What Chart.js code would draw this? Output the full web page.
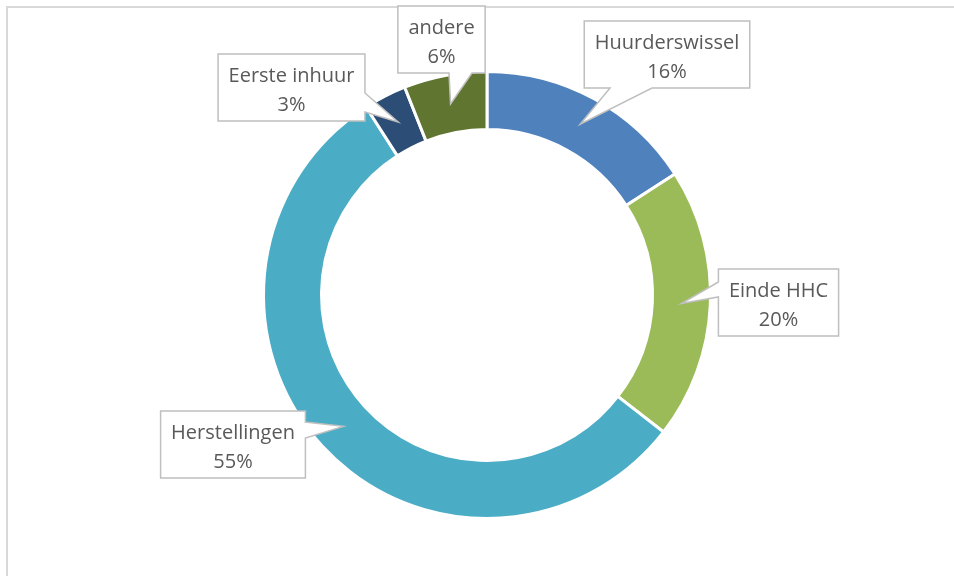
<!DOCTYPE html>
<html>
<head>
<meta charset="utf-8">
<script src="https://cdn.jsdelivr.net/npm/chart.js@4.4.0/dist/chart.umd.min.js"></script>
<style>
  html, body { margin: 0; padding: 0; background: #ffffff; }
</style>
</head>
<body>
<canvas id="myChart" width="954" height="576"></canvas>
<script>
// data (shares in %)
const categorieen = ["Huurderswissel", "Einde HHC", "Herstellingen", "Eerste inhuur", "andere"];
const aandelen = [15.9, 19.6, 55.4, 3.1, 6.0];
const kleuren = ["#4F81BD", "#9BBB59", "#4BACC6", "#2C4D75", "#5F7530"];

// callout boxes: offsets from the chart centre, pointer side + base along that side
const callouts = [
  { dx: 180,    top: -274, side: "bottom", b0: -57, b1: -15 },
  { dx: 291.5,  top: -26,  side: "left",   b0: 13,  b1: 28 },
  { dx: -254,   top: 116,  side: "right",  b0: 11,  b1: 27 },
  { dx: -195.5, top: -241, side: "right",  b0: 39,  b1: 58 },
  { dx: -45.5,  top: -289, side: "bottom", b0: 7.5, b1: 30.5 }
];

const labelFont = "20px 'Open Sans', sans-serif";
const boxH = 67;
const padX = 10.5;

function calloutPath(ctx, x, y, w, h, c, tip) {
  ctx.beginPath();
  ctx.moveTo(x, y);
  ctx.lineTo(x + w, y);
  if (c.side === "right") {
    ctx.lineTo(x + w, y + c.b0);
    ctx.lineTo(tip.x, tip.y);
    ctx.lineTo(x + w, y + c.b1);
  }
  ctx.lineTo(x + w, y + h);
  if (c.side === "bottom") {
    // b0/b1 are measured from the box centre
    ctx.lineTo(x + w / 2 + c.b1, y + h);
    ctx.lineTo(tip.x, tip.y);
    ctx.lineTo(x + w / 2 + c.b0, y + h);
  }
  ctx.lineTo(x, y + h);
  if (c.side === "left") {
    ctx.lineTo(x, y + c.b1);
    ctx.lineTo(tip.x, tip.y);
    ctx.lineTo(x, y + c.b0);
  }
  ctx.closePath();
}

const calloutPlugin = {
  id: "callouts",
  beforeDraw(chart) {
    const ctx = chart.ctx;
    ctx.save();
    ctx.fillStyle = "#ffffff";
    ctx.fillRect(0, 0, chart.width, chart.height);
    // chart frame
    ctx.strokeStyle = "#D9D9D9";
    ctx.lineWidth = 2;
    ctx.strokeRect(7, 7, 1200, 1200);
    ctx.restore();
  },
  afterDraw(chart) {
    const ctx = chart.ctx;
    const meta = chart.getDatasetMeta(0);
    const totaal = aandelen.reduce((a, b) => a + b, 0);
    ctx.save();
    ctx.font = labelFont;
    meta.data.forEach((arc, i) => {
      const c = callouts[i];
      const cx = arc.x, cy = arc.y;
      const tip = arc.tooltipPosition();
      const pct = Math.round(aandelen[i] / totaal * 100) + "%";
      const w = Math.max(ctx.measureText(categorieen[i]).width, ctx.measureText(pct).width) + padX * 2;
      const x = cx + c.dx - w / 2;
      const y = cy + c.top;
      calloutPath(ctx, x, y, w, boxH, c, tip);
      ctx.fillStyle = "#ffffff";
      ctx.fill();
      ctx.strokeStyle = "#BFBFBF";
      ctx.lineWidth = 1.5;
      ctx.stroke();

      ctx.fillStyle = "#595959";
      ctx.textAlign = "center";
      ctx.textBaseline = "alphabetic";
      ctx.fillText(categorieen[i], x + w / 2, y + 27.5);
      ctx.fillText(pct, x + w / 2, y + 57);
    });
    ctx.restore();
  }
};

new Chart("myChart", {
  type: "doughnut",
  data: {
    labels: categorieen,
    datasets: [{
      data: aandelen,
      backgroundColor: kleuren,
      borderColor: "#ffffff",
      borderWidth: 3,
      hoverOffset: 0
    }]
  },
  options: {
    responsive: false,
    animation: false,
    radius: 223.5,
    cutout: "74.05%",
    layout: { padding: { left: 20, right: 0, top: 14, bottom: 0 } },
    events: [],
    plugins: {
      legend: { display: false },
      tooltip: { enabled: false }
    }
  },
  plugins: [calloutPlugin]
});
</script>
</body>
</html>
